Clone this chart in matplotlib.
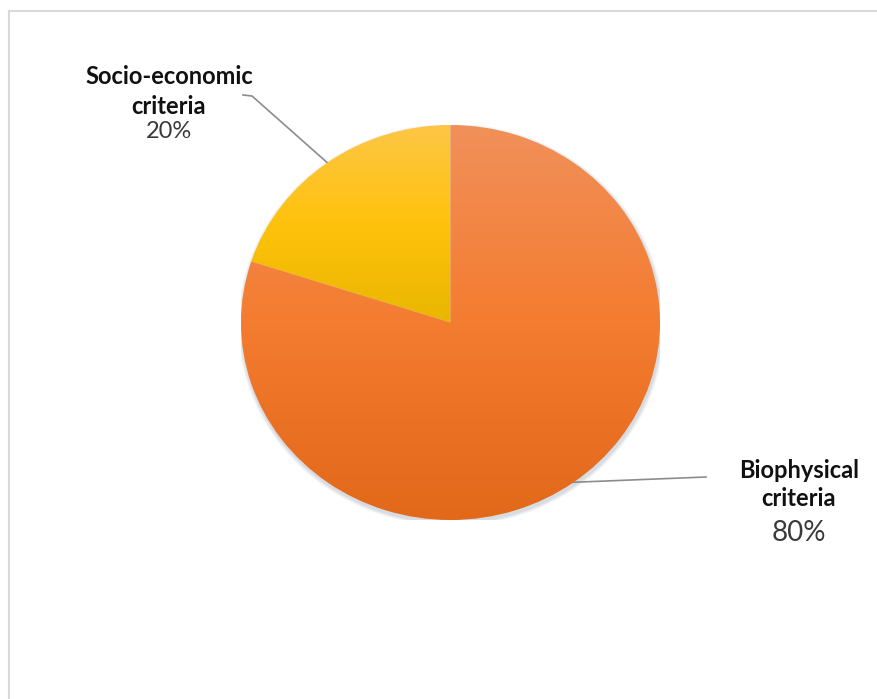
import numpy as np
import matplotlib
matplotlib.use('Agg')
from matplotlib import pyplot as plt
from matplotlib.colors import LinearSegmentedColormap
from matplotlib.patches import Ellipse

plt.rcParams['font.family'] = ['Lato', 'DejaVu Sans']

# 数据
labels = ['Socio-economic\ncriteria', 'Biophysical\ncriteria']
shares = [20, 80]
# 每个扇形的渐变色：上 -> 下
gradients = [['#FDC646', '#FFC20C', '#E9B600'],
             ['#F1905A', '#F47C30', '#E2681A']]

fig = plt.figure(figsize=(8.77, 6.99), dpi=100)

# 底层坐标系，用像素坐标放文字和引导线
base = fig.add_axes([0, 0, 1, 1])
base.set_xlim(0, 877)
base.set_ylim(699, 0)
base.axis('off')

# 左边和上边的浅灰边框
base.plot([9, 9], [11, 699], color='#d9d9d9', lw=1.5)
base.plot([9, 877], [11, 11], color='#d9d9d9', lw=1.5)

# 饼图坐标系（略扁的椭圆）
W, H = 877, 699
left, right, top, bottom = 241, 660, 125, 520
ax = fig.add_axes([left / W, (H - bottom) / H, (right - left) / W, (bottom - top) / H])

# 淡淡的阴影
for k, a in enumerate([0.10, 0.12, 0.15]):
    s = 0.012 * (3 - k)
    ax.add_patch(Ellipse((0.004, -0.012), 2 + s, 2 + s, color='#8a96a6',
                         alpha=a, lw=0, zorder=0))

wedges, _ = ax.pie(shares, startangle=90, counterclock=True, radius=1,
                   wedgeprops={'linewidth': 0, 'zorder': 1})

# 用 imshow 给每个扇形填竖直渐变
for w, cols in zip(wedges, gradients):
    ext = w.get_path().get_extents()
    y0, y1 = max(ext.y0, -1), min(ext.y1, 1)
    cmap = LinearSegmentedColormap.from_list('g', cols[::-1])
    grad = np.linspace(0, 1, 256).reshape(-1, 1)
    im = ax.imshow(grad, cmap=cmap, extent=[-1, 1, y0, y1], origin='lower',
                   aspect='auto', zorder=2)
    im.set_clip_path(w)
    w.set_alpha(0)

ax.set_aspect('auto')
ax.set_xlim(-1, 1)
ax.set_ylim(-1, 1)
ax.axis('off')


def to_px(x, y):
    d = ax.transData.transform((x, y))
    return base.transData.inverted().transform(d)


# 引导线：从扇形中点的边缘出发
angles = 90 + np.cumsum([0] + shares[:-1]) * 3.6 + np.array(shares) * 1.8
ends = [[(252, 96), (243, 95)], [(706, 477)]]
for ang, pts in zip(angles, ends):
    sx, sy = to_px(np.cos(np.radians(ang)), np.sin(np.radians(ang)))
    xs = [sx] + [p[0] for p in pts]
    ys = [sy] + [p[1] for p in pts]
    base.plot(xs, ys, color='#8c8c8c', lw=1.2, zorder=5)

# 标签
text_pos = [(169, 77, 106, 132, 17, 17), (799, 470, 499, 533, 17, 20)]
for lab, val, (x, y1, y2, y3, fs, pfs) in zip(labels, shares, text_pos):
    l1, l2 = lab.split('\n')
    base.text(x, y1, l1, ha='center', va='center', fontsize=fs,
              fontweight='bold', color='#111111')
    base.text(x, y2, l2, ha='center', va='center', fontsize=fs,
              fontweight='bold', color='#111111')
    base.text(x, y3, f'{val}%', ha='center', va='center', fontsize=pfs,
              color='#3a3a3a')

plt.savefig('out.png', dpi=100)
